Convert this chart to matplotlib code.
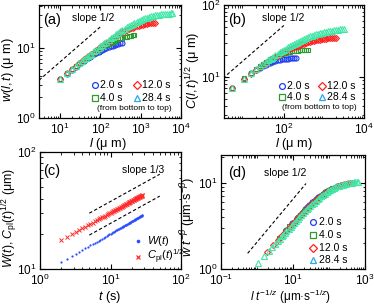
import matplotlib
matplotlib.use('Agg')
import matplotlib.pyplot as plt
import numpy as np
from matplotlib.ticker import LogLocator, NullFormatter, FixedLocator

plt.rcParams.update({
    'font.family': ['Liberation Sans', 'DejaVu Sans'],
    'mathtext.fontset': 'custom',
    'mathtext.rm': 'Liberation Sans',
    'mathtext.it': 'Liberation Sans:italic',
    'mathtext.bf': 'Liberation Sans:bold',
    'xtick.direction': 'in', 'ytick.direction': 'in',
    'xtick.top': True, 'ytick.right': True,
    'axes.linewidth': 0.9,
})

# ---------------- data ----------------
times = [2.0, 4.0, 12.0, 28.4]
legend_labels = ['2.0 s', '4.0 s', '12.0 s', '28.4 s']

# panel (a): w(l,t)
l_a = [10, 15, 20, 25, 30, 35, 40, 45, 50, 55, 60, 70, 80, 90, 100, 110, 125, 140, 160, 180,
       200, 225, 250, 280, 315, 350, 400, 450, 500, 560, 630, 700, 800, 900, 1000, 1120, 1250,
       1400, 1600, 1800, 2000, 2250, 2500, 2800, 3150, 3500, 4000, 4500, 5000, 5600, 6000]
w_2s = [3.57, 4.30, 4.90, 5.40, 5.83, 6.23, 6.58, 6.90, 7.19, 7.45, 7.70, 8.14, 8.52, 8.85, 9.14,
        9.39, 9.73, 10.02, 10.33, 10.59, 10.81, 11.04, 11.23, 11.41, 11.59, 11.74]
w_4s = [3.59, 4.33, 4.94, 5.47, 5.93, 6.36, 6.75, 7.10, 7.42, 7.73, 8.02, 8.54, 9.01, 9.42, 9.81,
        10.15, 10.62, 11.03, 11.51, 11.92, 12.28, 12.67, 13.00, 13.33, 13.66, 13.94, 14.26, 14.52,
        14.73, 14.94, 15.13, 15.28]
w_12s = [3.60, 4.35, 4.97, 5.52, 6.00, 6.45, 6.86, 7.23, 7.59, 7.92, 8.25, 8.84, 9.38, 9.87, 10.34,
         10.77, 11.37, 11.92, 12.58, 13.19, 13.74, 14.36, 14.92, 15.52, 16.14, 16.70, 17.39, 17.97,
         18.48, 19.00, 19.52, 19.95, 20.46, 20.87, 21.21, 21.55, 21.84, 22.11, 22.39, 22.61, 22.79,
         22.96]
w_28s = [3.60, 4.36, 4.98, 5.53, 6.02, 6.47, 6.89, 7.27, 7.63, 7.98, 8.31, 8.92, 9.49, 10.01, 10.50,
         10.96, 11.61, 12.21, 12.95, 13.64, 14.27, 15.00, 15.68, 16.43, 17.22, 17.95, 18.88, 19.72,
         20.46, 21.27, 22.09, 22.82, 23.72, 24.48, 25.14, 25.81, 26.43, 27.02, 27.67, 28.18, 28.61,
         29.04, 29.38, 29.72, 30.02, 30.27, 30.54, 30.75, 30.91, 31.06, 31.14]

# panel (b): C(l,t)^(1/2)
l_b = [5, 10, 15, 20, 25, 30, 35, 40, 45, 50, 55, 60, 70, 80, 90, 100, 110, 125, 140, 160, 180, 200,
       225, 250, 280, 315, 350, 400, 450, 500, 560, 630, 700, 800, 900, 1000, 1120, 1250, 1400,
       1600, 1800, 2000, 2250, 2500, 2800, 3150]
c_2s = [7.06, 9.53, 11.23, 12.50, 13.50, 14.29, 14.91, 15.42, 15.84, 16.18, 16.46, 16.70, 17.07,
        17.35, 17.56, 17.72, 17.84, 17.99, 18.09, 18.19, 18.27, 18.32]
c_4s = [7.09, 9.64, 11.48, 12.95, 14.17, 15.22, 16.10, 16.87, 17.54, 18.13, 18.64, 19.10, 19.86,
        20.47, 20.96, 21.35, 21.68, 22.07, 22.37, 22.67, 22.90, 23.07, 23.24, 23.36, 23.47, 23.57,
        23.64, 23.71]
c_12s = [6.98, 9.39, 11.12, 12.48, 13.64, 14.64, 15.51, 16.29, 17.01, 17.65, 18.24, 18.79, 19.77,
         20.63, 21.40, 22.08, 22.70, 23.53, 24.25, 25.09, 25.82, 26.46, 27.15, 27.75, 28.38, 29.02,
         29.55, 30.21, 30.76, 31.22, 31.70, 32.16, 32.55, 33.02, 33.40, 33.71, 34.03, 34.32, 34.59,
         34.89, 35.13, 35.32]
c_28s = [7.03, 9.52, 11.34, 12.80, 14.05, 15.15, 16.13, 17.01, 17.83, 18.57, 19.27, 19.92, 21.10,
         22.15, 23.10, 23.97, 24.77, 25.86, 26.83, 27.98, 29.00, 29.91, 30.93, 31.83, 32.79, 33.77,
         34.63, 35.70, 36.61, 37.41, 38.23, 39.06, 39.76, 40.62, 41.33, 41.94, 42.55, 43.12, 43.66,
         44.26, 44.75, 45.16, 45.58, 45.94, 46.29, 46.62]

# panel (c): W(t) and C_pl(t)^(1/2)
t_c = [2.0, 2.4, 2.8, 3.2, 3.6, 4.0, 4.4, 4.8, 5.2, 5.6, 6.0, 6.4, 6.8, 7.2, 7.6, 8.0, 8.4, 8.8,
       9.2, 9.6, 10.0, 10.4, 10.8, 11.2, 11.6, 12.0, 12.4, 12.8, 13.2, 13.6, 14.0, 14.4, 14.8, 15.2,
       15.6, 16.0, 16.4, 16.8, 17.2, 17.6, 18.0, 18.4, 18.8, 19.2, 19.6, 20.0, 20.4, 20.8, 21.2,
       21.6, 22.0, 22.4, 22.8, 23.2, 23.6, 24.0, 24.4, 24.8, 25.2, 25.6, 26.0, 26.4, 26.8, 27.2,
       27.6, 28.0, 28.4]
W_c = [11.40, 12.15, 12.82, 13.44, 14.00, 14.53, 15.02, 15.49, 15.93, 16.35, 16.75, 17.13, 17.50,
       17.85, 18.19, 18.52, 18.84, 19.15, 19.45, 19.74, 20.02, 20.30, 20.57, 20.83, 21.09, 21.34,
       21.59, 21.83, 22.07, 22.30, 22.53, 22.75, 22.97, 23.18, 23.40, 23.60, 23.81, 24.01, 24.21,
       24.41, 24.60, 24.79, 24.97, 25.16, 25.34, 25.52, 25.70, 25.87, 26.05, 26.22, 26.39, 26.56,
       26.72, 26.88, 27.04, 27.20, 27.36, 27.52, 27.67, 27.83, 27.98, 28.13, 28.28, 28.42, 28.57,
       28.71, 28.85]
Cpl_c = [17.70, 18.81, 19.80, 20.70, 21.53, 22.30, 23.02, 23.70, 24.34, 24.95, 25.53, 26.08, 26.62,
         27.13, 27.62, 28.10, 28.56, 29.00, 29.44, 29.86, 30.27, 30.67, 31.05, 31.43, 31.80, 32.16,
         32.52, 32.86, 33.20, 33.53, 33.86, 34.18, 34.49, 34.80, 35.10, 35.40, 35.69, 35.98, 36.27,
         36.54, 36.82, 37.09, 37.35, 37.62, 37.88, 38.13, 38.39, 38.64, 38.88, 39.13, 39.36, 39.60,
         39.84, 40.07, 40.30, 40.52, 40.75, 40.97, 41.19, 41.40, 41.62, 41.83, 42.04, 42.25, 42.46,
         42.66, 42.86]

# scaling exponents for panel (d)
BETA = 1.0 / 3.0
INV_Z = 2.0 / 3.0

# guide lines (slopes)
guide_a_x = [3, 100]
guide_a_y = [3.46, 20.0]
guide_b_x = [3, 100]
guide_b_y = [9.6, 52.0]
guide_c_x = [5, 50]
guide_c_up_y = [30.0, 64.6]
guide_c_lo_y = [19.5, 42.0]
guide_d_x = [0.55, 23]
guide_d_y = [1.52, 9.8]

# ---------------- styles ----------------
cols = ['#1f3cf5', '#2f9a2f', '#ff1f1f', '#40e8a8']
leg_cols = ['#1f3cf5', '#2f9a2f', '#ff1f1f', '#2aa8e8']
marks = ['o', 's', 'D', '^']
msz = [3.6, 3.4, 3.0, 3.8]

fig = plt.figure(figsize=(3.74, 3.05), dpi=100)
ax_a = fig.add_axes([0.1043, 0.6131, 0.3797, 0.3705])
ax_b = fig.add_axes([0.5989, 0.6131, 0.3743, 0.3705])
ax_c = fig.add_axes([0.1070, 0.1180, 0.3770, 0.3836])
ax_d = fig.add_axes([0.5909, 0.1180, 0.3850, 0.3738])

TICK_FS = 8.5
LAB_FS = 9.2


def style(ax, xlim, ylim):
    ax.set_xscale('log')
    ax.set_yscale('log')
    ax.set_xlim(*xlim)
    ax.set_ylim(*ylim)
    ax.xaxis.set_minor_locator(LogLocator(base=10, subs=np.arange(2, 10), numticks=50))
    ax.yaxis.set_minor_locator(LogLocator(base=10, subs=np.arange(2, 10), numticks=50))
    ax.xaxis.set_minor_formatter(NullFormatter())
    ax.yaxis.set_minor_formatter(NullFormatter())
    ax.tick_params(which='major', length=3.5, width=0.8, labelsize=TICK_FS, pad=2.5)
    ax.tick_params(which='minor', length=1.8, width=0.6)


def legend_mark(ax, x, y, i):
    ax.plot([x], [y], marker=marks[i], ls='none', mfc='none', mec=leg_cols[i],
            ms=msz[i] + 0.6, mew=0.9, transform=ax.transAxes, clip_on=False)


def legend_text(ax, x, y, s, fs=7.5, **kw):
    ax.text(x, y, s, transform=ax.transAxes, ha='left', va='center', fontsize=fs, **kw)


# ---------------- (a) ----------------
ax = ax_a
style(ax, (3, 1e4), (1, 41))
for i, w in enumerate([w_2s, w_4s, w_12s, w_28s]):
    ax.plot(l_a[:len(w)], w, marker=marks[i], ls='none', mfc='none', mec=cols[i],
            ms=msz[i], mew=0.8)
ax.plot(guide_a_x, guide_a_y, color='k', ls=(0, (3, 2)), lw=0.8)
ax.set_ylabel(r'$w(l,t)$ (μ m)', fontsize=LAB_FS)
ax.set_xlabel(r'$l$ (μ m)', fontsize=LAB_FS)
ax.yaxis.set_label_coords(-0.165, 0.43)
ax.xaxis.set_label_coords(0.486, -0.16)
ax.text(0.028, 0.867, '(a)', transform=ax.transAxes, fontsize=10.5, va='center', ha='left')
ax.text(0.232, 0.885, 'slope 1/2', transform=ax.transAxes, fontsize=7.5, va='center', ha='left')
leg_pos_a = [(0.394, 0.292), (0.394, 0.177), (0.690, 0.292), (0.690, 0.177)]
for i, (x, y) in enumerate(leg_pos_a):
    legend_mark(ax, x, y, i)
    legend_text(ax, x + 0.035, y, legend_labels[i])
legend_text(ax, 0.405, 0.085, '(from bottom to top)', fs=6.0)

# ---------------- (b) ----------------
ax = ax_b
style(ax, (3.2, 1e4), (2.7, 100))
for i, c in enumerate([c_2s, c_4s, c_12s, c_28s]):
    ax.plot(l_b[:len(c)], c, marker=marks[i], ls='none', mfc='none', mec=cols[i],
            ms=msz[i], mew=0.8)
ax.plot(guide_b_x, guide_b_y, color='k', ls=(0, (3, 2)), lw=0.8)
ax.set_ylabel(r'$C(l,t)^{1/2}$ (μ m)', fontsize=LAB_FS)
ax.set_xlabel(r'$l$ (μ m)', fontsize=LAB_FS)
ax.yaxis.set_label_coords(-0.15, 0.425)
ax.xaxis.set_label_coords(0.5, -0.16)
ax.text(0.029, 0.867, '(b)', transform=ax.transAxes, fontsize=10.5, va='center', ha='left')
ax.text(0.271, 0.885, 'slope 1/2', transform=ax.transAxes, fontsize=7.5, va='center', ha='left')
leg_pos_b = [(0.412, 0.283), (0.412, 0.186), (0.698, 0.283), (0.698, 0.186)]
for i, (x, y) in enumerate(leg_pos_b):
    legend_mark(ax, x, y, i)
    legend_text(ax, x + 0.035, y, legend_labels[i])
legend_text(ax, 0.414, 0.095, '(from bottom to top)', fs=6.0)

# ---------------- (c) ----------------
ax = ax_c
style(ax, (1, 100), (10, 100))
ax.plot(t_c, W_c, marker='o', ls='none', color='#2a4bff', ms=1.6, mew=0)
ax.plot(t_c, Cpl_c, marker='x', ls='none', color='#ff2a2a', ms=2.6, mew=0.7)
ax.plot(guide_c_x, guide_c_up_y, color='k', ls=(0, (3, 2)), lw=0.8)
ax.plot(guide_c_x, guide_c_lo_y, color='k', ls=(0, (3, 2)), lw=0.8)
ax.set_ylabel(r'$W(t)$, $C_{\rm pl}(t)^{1/2}$ (μm)', fontsize=8.8)
ax.set_xlabel(r'$t$ (s)', fontsize=LAB_FS)
ax.yaxis.set_label_coords(-0.145, 0.436)
ax.xaxis.set_label_coords(0.496, -0.167)
ax.text(0.021, 0.835, '(c)', transform=ax.transAxes, fontsize=10.5, va='center', ha='left')
ax.text(0.579, 0.846, 'slope 1/3', transform=ax.transAxes, fontsize=7.5, va='center', ha='left')
ax.plot([0.697], [0.242], marker='o', ls='none', color='#2a4bff', ms=2.6, mew=0,
        transform=ax.transAxes, clip_on=False)
ax.plot([0.697], [0.105], marker='x', ls='none', color='#ff2a2a', ms=3.4, mew=0.9,
        transform=ax.transAxes, clip_on=False)
legend_text(ax, 0.757, 0.242, r'$W(t)$', fs=8)
legend_text(ax, 0.757, 0.105, r'$C_{\rm pl}(t)^{1/2}$', fs=8)

# ---------------- (d) ----------------
ax = ax_d
style(ax, (0.1, 1000), (1, 21))
ax.xaxis.set_major_locator(FixedLocator([0.1, 10, 1000]))
ax.xaxis.set_minor_locator(LogLocator(base=10, subs=np.arange(1, 10), numticks=50))
for i, w in enumerate([w_2s, w_4s, w_12s, w_28s]):
    t = times[i]
    xs = np.array(l_a[:len(w)]) * t ** (-INV_Z)
    ys = np.array(w) * t ** (-BETA)
    ax.plot(xs, ys, marker=marks[i], ls='none', mfc='none', mec=cols[i], ms=msz[i], mew=0.8)
ax.plot(guide_d_x, guide_d_y, color='k', ls=(0, (3, 2)), lw=0.8)
ax.set_ylabel(r'$w\ t^{-\beta}$ (μm·s$^{-\beta}$)', fontsize=LAB_FS)
ax.set_xlabel(r'$l\ t^{-1/z}$ (μm·s$^{-1/z}$)', fontsize=8.5)
ax.yaxis.set_label_coords(-0.162, 0.456)
ax.xaxis.set_label_coords(0.48, -0.163)
ax.text(0.047, 0.842, '(d)', transform=ax.transAxes, fontsize=10.5, va='center', ha='left')
ax.text(0.297, 0.842, 'slope 1/2', transform=ax.transAxes, fontsize=7.5, va='center', ha='left')
leg_pos_d = [(0.642, 0.415), (0.642, 0.298), (0.642, 0.187), (0.642, 0.079)]
for i, (x, y) in enumerate(leg_pos_d):
    legend_mark(ax, x, y, i)
    legend_text(ax, x + 0.038, y, legend_labels[i])

fig.savefig('out.png', dpi=100)
